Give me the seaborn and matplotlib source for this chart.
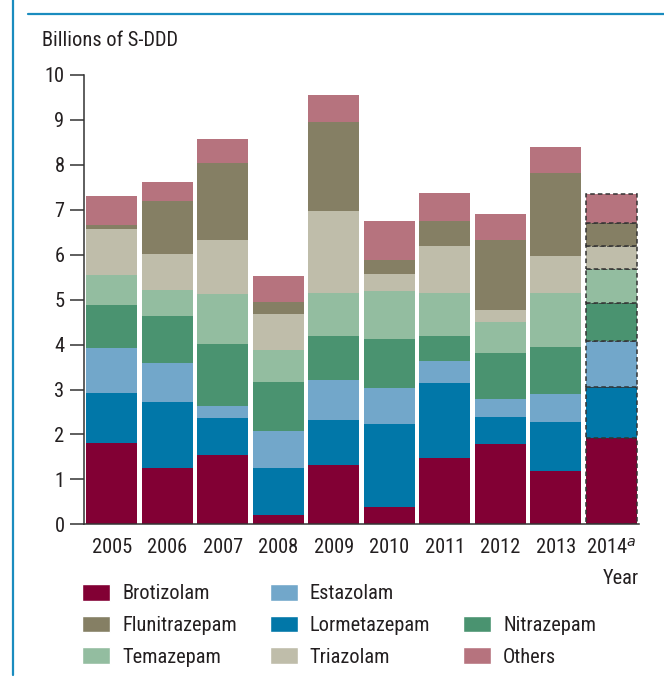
import numpy as np
import pandas as pd
import matplotlib
matplotlib.use("Agg")
import matplotlib.pyplot as plt
import seaborn as sns
from matplotlib import font_manager
from matplotlib.patches import Patch
from matplotlib.lines import Line2D

# data (billions of S-DDD), stacked bottom -> top
years = ["2005", "2006", "2007", "2008", "2009", "2010", "2011", "2012", "2013", "2014$^{a}$"]
brotizolam = [1.81, 1.25, 1.54, 0.21, 1.32, 0.39, 1.48, 1.79, 1.19, 1.92]
lormetazepam = [1.11, 1.47, 0.83, 1.04, 1.00, 1.84, 1.67, 0.60, 1.09, 1.14]
estazolam = [1.00, 0.87, 0.26, 0.83, 0.89, 0.80, 0.49, 0.40, 0.62, 1.02]
nitrazepam = [0.96, 1.05, 1.38, 1.09, 0.98, 1.09, 0.55, 1.02, 1.05, 0.85]
temazepam = [0.67, 0.58, 1.12, 0.71, 0.96, 1.07, 0.96, 0.69, 1.20, 0.75]
triazolam = [1.02, 0.80, 1.20, 0.80, 1.82, 0.38, 1.04, 0.27, 0.82, 0.51]
flunitrazepam = [0.09, 1.18, 1.71, 0.27, 1.98, 0.31, 0.56, 1.56, 1.85, 0.52]
others = [0.65, 0.42, 0.53, 0.58, 0.60, 0.87, 0.62, 0.58, 0.58, 0.64]

layers = [
    ("Brotizolam", brotizolam, "#820034"),
    ("Lormetazepam", lormetazepam, "#0177a8"),
    ("Estazolam", estazolam, "#72a7ca"),
    ("Nitrazepam", nitrazepam, "#4a9370"),
    ("Temazepam", temazepam, "#93bda0"),
    ("Triazolam", triazolam, "#bfbdaa"),
    ("Flunitrazepam", flunitrazepam, "#857f64"),
    ("Others", others, "#b6737e"),
]

sns.set_style("white")

# the source uses a condensed face; take a narrow one if the system has it
fonts = font_manager.fontManager.ttflist
names = {f.name for f in fonts}
family = "DejaVu Sans"
stretch = "normal"
for cand in ["Liberation Sans Narrow", "Roboto Condensed", "Open Sans Condensed"]:
    if cand in names:
        family = cand
        break
else:
    if any(f.name == "DejaVu Sans" and f.stretch == "condensed" for f in fonts):
        stretch = "condensed"
plt.rcParams["font.family"] = [family, "DejaVu Sans"]
plt.rcParams["font.stretch"] = stretch
text_col = "#231f20"
fs = 14.7 if family != "DejaVu Sans" else 12.5

fig = plt.figure(figsize=(6.64, 6.77), dpi=100)
ax = fig.add_axes([84 / 664, 1 - 524.3 / 677, 555 / 664, 449.3 / 677])

bottom = np.zeros(len(years))
for name, vals, col in layers:
    df = pd.DataFrame({"year": years, "value": vals})
    sns.barplot(data=df, x="year", y="value", color=col, saturation=1,
                width=0.92, errorbar=None, bottom=bottom, linewidth=0, ax=ax)
    bottom = bottom + np.array(vals)

# 2014 bar is provisional: dashed outline on every segment
for p in ax.patches:
    if p.get_x() > 8.5:
        p.set_edgecolor("#333333")
        p.set_linestyle((0, (3, 2)))
        p.set_linewidth(1.1)

ax.set_xlim(-0.5, 9.5)
ax.set_ylim(0, 10)
ax.set_yticks(range(0, 11))
ax.set_xticks(range(len(years)))
ax.set_xticklabels(years)
ax.set_xticks(np.arange(-0.5, 10, 1), minor=True)
ax.tick_params(axis="x", which="major", length=0, pad=10, labelsize=fs, colors=text_col)
ax.tick_params(axis="x", which="minor", length=8, width=1.1, color="#333333", direction="out")
ax.tick_params(axis="y", length=10, width=1.1, color="#333333", pad=4, labelsize=fs,
               labelcolor=text_col, direction="out", left=True)
ax.set_ylabel("")
ax.set_xlabel("Year", loc="right", fontsize=fs, color=text_col, labelpad=8)
for s in ["top", "right"]:
    ax.spines[s].set_visible(False)
for s in ["left", "bottom"]:
    ax.spines[s].set_color("#333333")
    ax.spines[s].set_linewidth(1.1)

fig.text(42 / 664, 1 - 40 / 677, "Billions of S-DDD", fontsize=fs, color=text_col,
         ha="left", va="center")

# legend, filled column by column with one blank slot
col = {n: c for n, v, c in layers}
blank = Patch(facecolor="none", edgecolor="none", label=" ")
order = ["Brotizolam", "Flunitrazepam", "Temazepam",
         "Estazolam", "Lormetazepam", "Triazolam",
         None, "Nitrazepam", "Others"]
handles = [blank if n is None else Patch(facecolor=col[n], label=n) for n in order]
fig.legend(handles=handles, ncol=3, loc="upper left", bbox_to_anchor=(82 / 664, 1 - 584 / 677),
           frameon=False, borderpad=0, borderaxespad=0, fontsize=fs,
           handlelength=1.37, handleheight=0.88, handletextpad=0.6,
           columnspacing=1.6, labelspacing=0.6, labelcolor=text_col)

# frame lines of the source page
blue = "#1a8cbf"
fig.add_artist(Line2D([13 / 664, 13 / 664], [0.003, 1], color=blue, lw=1.6))
fig.add_artist(Line2D([28 / 664, 1], [1 - 14 / 677, 1 - 14 / 677], color=blue, lw=1.6))

fig.savefig("out.png", dpi=100)
